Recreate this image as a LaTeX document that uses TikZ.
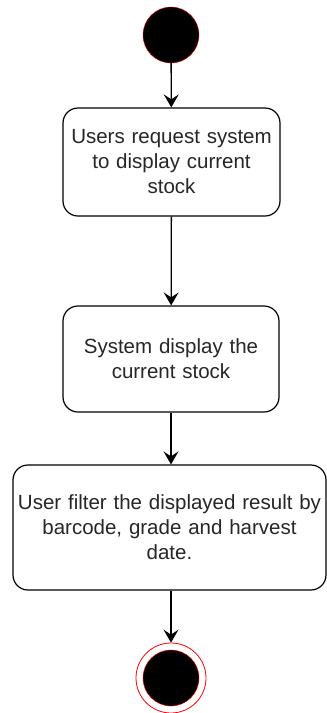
\documentclass[tikz,border=0pt]{standalone}
\usepackage{fontspec}
\setmainfont{Liberation Sans}
\usetikzlibrary{arrows.meta}
\tikzset{
  actbox/.style={draw, line width=1.2pt, rounded corners=15pt, align=center, inner sep=1pt,
    font=\fontsize{20.5}{25}\selectfont, text=black!85},
  startdot/.style={circle, draw=red, fill=black, minimum size=56pt, inner sep=0pt},
  flow/.style={line width=1.3pt, -{Stealth[length=13pt, width=15pt, inset=5pt]}}
}
\begin{document}
\begin{tikzpicture}[x=1pt, y=-1pt]
			%%%%% START %%%%%
			\useasboundingbox (0, 0) rectangle (327, 713);
			
			\node[startdot] (start) at (171, 35) {};
			
			\node[actbox, minimum width=217pt, minimum height=108pt, text width=210pt] (request) at (171.5, 162) {Users request system\\to display current\\stock};
			\node[actbox, minimum width=216pt, minimum height=106pt, text width=210pt] (display) at (171, 359) {System display the\\current stock};
			\node[actbox, minimum width=313pt, minimum height=125pt, text width=311pt] (filter) at (169.5, 527.5) {User filter the displayed result by\\barcode, grade and harvest\\date.};
			
			\node[circle, draw=red, thick, fill=white, minimum size=70pt, inner sep=0pt] (finish) at (171, 678) {};
			\node[startdot] (finishdot) at (finish) {};
			
			\draw[flow] (start) -- (request);
			\draw[flow] (request) -- (display);
			\draw[flow] (display.south) -- (display.south |- filter.north);
			\draw[flow] (filter.south -| finish) -- (finish);
			%%%%% END %%%%%
		\end{tikzpicture}
\end{document}
